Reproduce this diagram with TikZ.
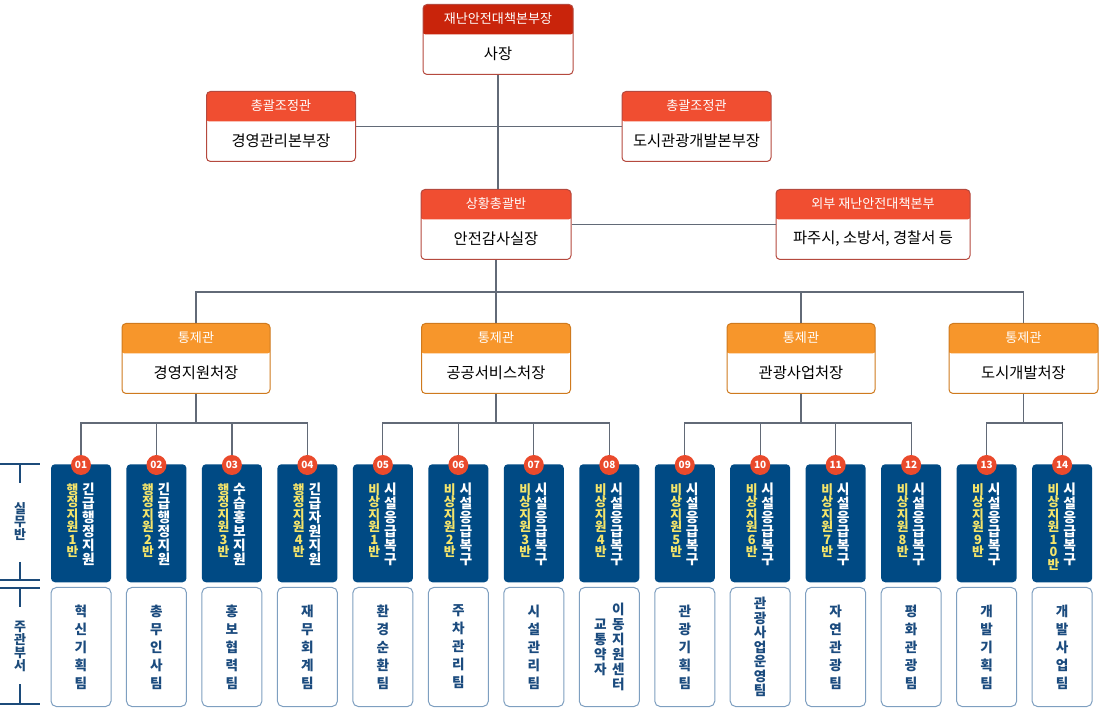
\documentclass[tikz,border=0pt]{standalone}
\usepackage{fontspec}
\setmainfont{Noto Sans CJK KR}
\usetikzlibrary{calc}
\definecolor{hdrtop}{HTML}{C9240B}
\definecolor{hdrred}{HTML}{F04E31}
\definecolor{bordred}{HTML}{B5493E}
\definecolor{hdrorg}{HTML}{F7962B}
\definecolor{bordorg}{HTML}{CF7A1E}
\definecolor{bluec}{HTML}{004A84}
\definecolor{yellowc}{HTML}{F5E56B}
\definecolor{badgec}{HTML}{EA4A2C}
\definecolor{teamb}{HTML}{7E9FC0}
\definecolor{teamt}{HTML}{1B4B7E}
\definecolor{connc}{HTML}{626A77}
\definecolor{labc}{HTML}{1C4B7A}
\newcommand\kfs[2]{\fontsize{#1}{#2}\selectfont\lineskiplimit=-20pt\lineskip=0pt}
\tikzset{
  conn/.style={draw=connc, line width=0.9pt},
  labline/.style={draw=labc, line width=0.9pt},
  obox/.style={rectangle, rounded corners=3pt, fill=white, line width=0.75pt, inner sep=0pt, anchor=north, minimum height=52.5pt},
  hdr/.style={path picture={\fill[#1] ($(path picture bounding box.north west)+(-1pt,1pt)$) rectangle ([yshift=-22.5pt,xshift=1pt]path picture bounding box.north east);}},
  hdrtext/.style={text=white, font=\kfs{9.8}{11}, inner sep=0pt},
  bodytext/.style={text=black, font=\kfs{11.5}{13}, inner sep=0pt},
  bluebox/.style={rectangle, rounded corners=3pt, fill=bluec, minimum width=45pt, minimum height=88.5pt, anchor=north, inner sep=0pt},
  teambox/.style={rectangle, rounded corners=4pt, draw=teamb, line width=0.75pt, fill=white, minimum width=45pt, minimum height=89.25pt, anchor=north, inner sep=0pt},
  badge/.style={circle, fill=badgec, minimum size=15pt, inner sep=0pt, text=white, font=\kfs{7.5}{8}\bfseries},
  wtxt/.style={text=white, font=\kfs{10.3}{10.5}\bfseries, align=center, inner sep=0pt, anchor=north},
  ytxt/.style={text=yellowc, font=\kfs{9.6}{9.4}\bfseries, align=center, inner sep=0pt, anchor=north},
  ttxt/.style={text=teamt, font=\kfs{10.2}{13.5}\bfseries, align=center, inner sep=0pt},
  labtxt/.style={text=labc, font=\kfs{9.75}{9.75}\bfseries, align=center, inner sep=0pt}
}
\newcommand\orgbox[8]{%
  \node[obox, minimum width=#4*0.75pt, draw=#6, hdr=#5] (#1) at (#2,#3) {};
  \node[hdrtext] (#1h) at ([yshift=-11.25pt]#1.north) {#7};
  \node[bodytext] (#1b) at ([yshift=-37.5pt]#1.north) {#8};
}
\begin{document}
\begin{tikzpicture}[x=0.75pt,y=-0.75pt]
\useasboundingbox (0,0) rectangle (1100,712);

\coordinate (bus) at (497,292);

% upper boxes
\orgbox{top}{498}{4}{150}{hdrtop}{bordred}{재난안전대책본부장}{사장}
\orgbox{adm}{281}{91}{149}{hdrred}{bordred}{총괄조정관}{경영관리본부장}
\orgbox{city}{696.5}{91}{149}{hdrred}{bordred}{총괄조정관}{도시관광개발본부장}
\orgbox{sit}{496}{189}{150}{hdrred}{bordred}{상황총괄반}{안전감사실장}
\orgbox{ext}{873}{189}{194}{hdrred}{bordred}{외부 재난안전대책본부}{파주시, 소방서, 경찰서 등}
\orgbox{d1}{196}{323}{148}{hdrorg}{bordorg}{통제관}{경영지원처장}
\orgbox{d2}{496}{323}{149}{hdrorg}{bordorg}{통제관}{공공서비스처장}
\orgbox{d3}{801}{323}{148}{hdrorg}{bordorg}{통제관}{관광사업처장}
\orgbox{d4}{1023.5}{323}{149}{hdrorg}{bordorg}{통제관}{도시개발처장}

\draw[conn] (top.south) -- (top.south |- sit.north);
\draw[conn] (adm.east) -- (city.west);
\draw[conn] (sit.east) -- (ext.west);
\draw[conn] (sit.south) -- (sit.south |- bus);
\draw[conn] (d1.north) |- (bus) -| (d4.north);
\draw[conn] (d2.north) -- (d2.north |- bus);
\draw[conn] (d3.north) -- (d3.north |- bus);

% columns
\foreach \i in {1,...,14}{
  \pgfmathsetmacro\cx{81+75.47*(\i-1)}
  \node[bluebox] (c\i) at (\cx,464) {};
  \node[teambox] (t\i) at (\cx,587) {};
}
\coordinate (g1) at (196,423);
\coordinate (g2) at (496,423);
\coordinate (g3) at (801,423);
\coordinate (g4) at (1023.5,423);
\draw[conn] (d1.south) -- (d1.south |- g1);
\draw[conn] (d2.south) -- (d2.south |- g2);
\draw[conn] (d3.south) -- (d3.south |- g3);
\draw[conn] (d4.south) -- (d4.south |- g4);
\draw[conn] (c1.north) |- (g1) -| (c4.north);
\draw[conn] (c2.north) -- (c2.north |- g1);
\draw[conn] (c3.north) -- (c3.north |- g1);
\draw[conn] (c5.north) |- (g2) -| (c8.north);
\draw[conn] (c6.north) -- (c6.north |- g2);
\draw[conn] (c7.north) -- (c7.north |- g2);
\draw[conn] (c9.north) |- (g3) -| (c12.north);
\draw[conn] (c10.north) -- (c10.north |- g3);
\draw[conn] (c11.north) -- (c11.north |- g3);
\draw[conn] (c13.north) |- (g4) -| (c14.north);

\foreach \i in {1,...,14}{
  \node[badge] (n\i) at ([yshift=-0.75pt]c\i.north) {\ifnum\i<10 0\fi\i};
}

\foreach \i/\w/\y in {
  1/{긴\\급\\행\\정\\지\\원}/{행\\정\\지\\원\\1\\반},
  2/{긴\\급\\행\\정\\지\\원}/{행\\정\\지\\원\\2\\반},
  3/{수\\습\\홍\\보\\지\\원}/{행\\정\\지\\원\\3\\반},
  4/{긴\\급\\자\\원\\지\\원}/{행\\정\\지\\원\\4\\반},
  5/{시\\설\\응\\급\\복\\구}/{비\\상\\지\\원\\1\\반},
  6/{시\\설\\응\\급\\복\\구}/{비\\상\\지\\원\\2\\반},
  7/{시\\설\\응\\급\\복\\구}/{비\\상\\지\\원\\3\\반},
  8/{시\\설\\응\\급\\복\\구}/{비\\상\\지\\원\\4\\반},
  9/{시\\설\\응\\급\\복\\구}/{비\\상\\지\\원\\5\\반},
  10/{시\\설\\응\\급\\복\\구}/{비\\상\\지\\원\\6\\반},
  11/{시\\설\\응\\급\\복\\구}/{비\\상\\지\\원\\7\\반},
  12/{시\\설\\응\\급\\복\\구}/{비\\상\\지\\원\\8\\반},
  13/{시\\설\\응\\급\\복\\구}/{비\\상\\지\\원\\9\\반},
  14/{시\\설\\응\\급\\복\\구}/{비\\상\\지\\원\\1\\0\\반}}{
  \node[wtxt] (w\i) at ([xshift=5.6pt,yshift=-14.25pt]c\i.north) {\w};
  \node[ytxt] (y\i) at ([xshift=-6.4pt,yshift=-14.25pt]c\i.north) {\y};
}

\foreach \i/\t in {
  1/{혁\\신\\기\\획\\팀}, 2/{총\\무\\인\\사\\팀}, 3/{홍\\보\\협\\력\\팀},
  4/{재\\무\\회\\계\\팀}, 5/{환\\경\\순\\환\\팀}, 6/{주\\차\\관\\리\\팀},
  7/{시\\설\\관\\리\\팀}, 9/{관\\광\\기\\획\\팀}, 11/{자\\연\\관\\광\\팀},
  12/{평\\화\\관\\광\\팀}, 13/{개\\발\\기\\획\\팀}, 14/{개\\발\\사\\업\\팀}}{
  \node[ttxt] (tt\i) at (t\i.center) {\t};
}
\node[ttxt, font=\kfs{10.2}{10.9}\bfseries] (tt10) at (t10.center) {관\\광\\사\\업\\운\\영\\팀};
\node[ttxt, font=\kfs{10.2}{11.25}\bfseries] (tt8a) at ([xshift=6.75pt]t8.center) {이\\동\\지\\원\\센\\터};
\node[ttxt, font=\kfs{10.2}{11.25}\bfseries] (tt8b) at ([xshift=-6.75pt]t8.center) {교\\통\\약\\자};

% left labels
\draw[labline] (0,464) -- (40,464);
\draw[labline] (20,464) -- (20,483);
\draw[labline] (20,562) -- (20,580);
\draw[labline] (0,580) -- (40,580);
\draw[labline] (0,588) -- (40,588);
\draw[labline] (20,588) -- (20,607);
\draw[labline] (20,684) -- (20,704);
\draw[labline] (0,704) -- (40,704);
\node[labtxt] (lab1) at (20,522) {실\\무\\반};
\node[labtxt] (lab2) at (20,646) {주\\관\\부\\서};
\end{tikzpicture}
\end{document}
